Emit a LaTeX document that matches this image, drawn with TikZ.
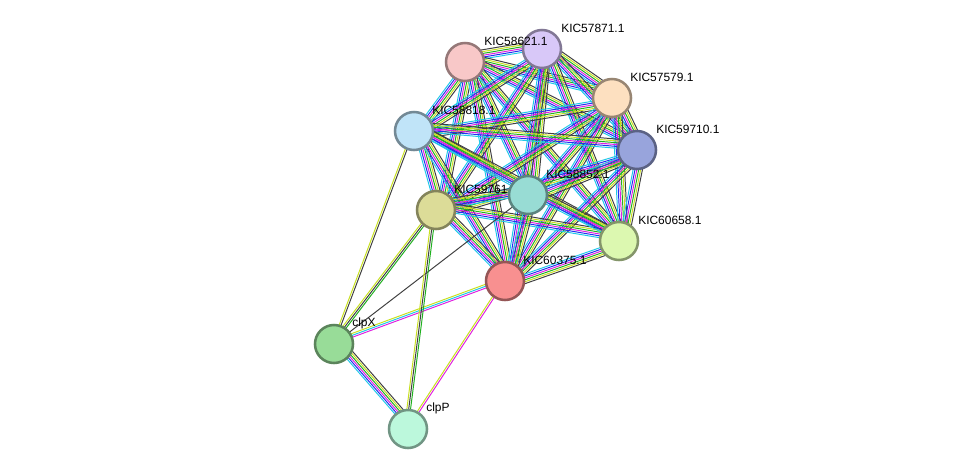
\documentclass[tikz,border=0pt]{standalone}
\usepackage{fontspec}
\setmainfont{Liberation Sans}
\usetikzlibrary{calc}
\pgfdeclarelayer{bg}
\pgfsetlayers{bg,main}
\tikzset{
  prot/.style={circle, draw=#1!60!black, fill=#1, line width=1.8pt, minimum size=0.95cm, inner sep=0pt},
  lbl/.style={anchor=west, inner sep=0pt, font=\fontsize{8.5}{10}\selectfont},
  ln/.style={line width=0.7pt}
}
\definecolor{cpink}{HTML}{F8C8C8}
\definecolor{clav}{HTML}{D8C8F8}
\definecolor{cpeach}{HTML}{FDE0C0}
\definecolor{cblue}{HTML}{C0E4F8}
\definecolor{cnavy}{HTML}{98A4DC}
\definecolor{ckhaki}{HTML}{DCDC98}
\definecolor{cteal}{HTML}{98DCD4}
\definecolor{clime}{HTML}{DCF8B0}
\definecolor{cred}{HTML}{F89090}
\definecolor{cgreen}{HTML}{98DC98}
\definecolor{cmint}{HTML}{BCF8DC}
\definecolor{ecyan}{HTML}{20C8E8}
\definecolor{eblue}{HTML}{2030F0}
\definecolor{emag}{HTML}{E020E0}
\definecolor{egreen}{HTML}{20B020}
\definecolor{eyel}{HTML}{C8E020}
\definecolor{egrey}{HTML}{404040}
% parallel coloured lines between two nodes
\newcommand{\multiedge}[3]{%
  \foreach \col [count=\k] in {#3} {
    \pgfmathsetmacro{\off}{(\k-1)*1.3}
    \draw[ln, \col] ($(#1.center)!\off pt!90:(#2.center)$) -- ($(#2.center)!\off pt!-90:(#1.center)$);
  }}
\begin{document}
\begin{tikzpicture}[x=0.025cm, y=-0.025cm]
    \useasboundingbox (0,0) rectangle (976,475);

    \node[prot=cpink] (k621) at (465,62) {};
    \node[prot=clav] (k871) at (542,49) {};
    \node[prot=cpeach] (k579) at (612,98) {};
    \node[prot=cblue] (k818) at (414,131) {};
    \node[prot=cnavy] (k710) at (637,150) {};
    \node[prot=ckhaki] (k761) at (436,210) {};
    \node[prot=cteal] (k852) at (528,195) {};
    \node[prot=clime] (k658) at (619,241) {};
    \node[prot=cred] (k375) at (505,281) {};
    \node[prot=cgreen] (clpx) at (334,344) {};
    \node[prot=cmint] (clpp) at (408,429) {};

    \node[lbl] (l621) at ($(k621)+(19,-21)$) {KIC58621.1};
    \node[lbl] (l871) at ($(k871)+(19,-21)$) {KIC57871.1};
    \node[lbl] (l579) at ($(k579)+(18,-21)$) {KIC57579.1};
    \node[lbl] (l818) at ($(k818)+(18,-21)$) {KIC58818.1};
    \node[lbl] (l710) at ($(k710)+(19,-21)$) {KIC59710.1};
    \node[lbl] (l761) at ($(k761)+(18,-21)$) {KIC59761};
    \node[lbl] (l852) at ($(k852)+(18,-21)$) {KIC58852.1};
    \node[lbl] (l658) at ($(k658)+(19,-21)$) {KIC60658.1};
    \node[lbl] (l375) at ($(k375)+(18,-21)$) {KIC60375.1};
    \node[lbl] (lx) at ($(clpx)+(18,-21)$) {clpX};
    \node[lbl] (lp) at ($(clpp)+(18,-21)$) {clpP};

    \begin{pgfonlayer}{bg}
    \foreach \a/\b in {k621/k871,k621/k579,k621/k818,k621/k710,k621/k761,k621/k852,k621/k658,k621/k375,
        k871/k579,k871/k818,k871/k710,k871/k761,k871/k852,k871/k658,k871/k375,
        k579/k818,k579/k710,k579/k761,k579/k852,k579/k658,k579/k375,
        k818/k710,k818/k761,k818/k852,k818/k658,k818/k375,
        k710/k761,k710/k852,k710/k658,k710/k375,
        k761/k852,k761/k658,k761/k375,
        k852/k658,k852/k375,k658/k375}
      {\multiedge{\a}{\b}{ecyan,eblue,emag,egreen,eyel,egrey}}
    \multiedge{clpx}{k818}{egrey,eyel}
    \multiedge{clpx}{k761}{egreen,egrey,eyel}
    \multiedge{clpx}{k852}{egrey}
    \multiedge{clpx}{k375}{emag,ecyan,eyel}
    \multiedge{clpx}{clpp}{ecyan,eblue,emag,egreen,eyel,egrey}
    \multiedge{clpp}{k761}{egreen,egrey,eyel}
    \multiedge{clpp}{k375}{emag,eyel}
    \end{pgfonlayer}
\end{tikzpicture}
\end{document}
